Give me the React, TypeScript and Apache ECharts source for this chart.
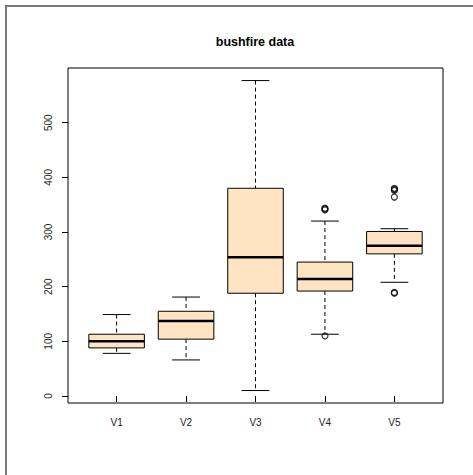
import React, { useEffect, useRef } from "react";
import * as echarts from "echarts";

const categories = ["V1", "V2", "V3", "V4", "V5"];
const lowerWhisker = [78, 66, 10, 113, 208];
const q1 = [88, 104, 188, 192, 260];
const median = [100, 137, 254, 214, 275];
const q3 = [113, 155, 380, 245, 301];
const upperWhisker = [149, 181, 577, 320, 306];
const outliers: [number, number][] = [
  [4, 340.5],
  [4, 342],
  [4, 343.5],
  [4, 110],
  [5, 380],
  [5, 378],
  [5, 376],
  [5, 364],
  [5, 188],
  [5, 189.5],
];
const yTicks = [0, 100, 200, 300, 400, 500];
const xTicks = [1, 2, 3, 4, 5];

const FONT = "'Liberation Sans', Arial, Helvetica, sans-serif";

export default function App() {
  const ref = useRef<HTMLDivElement>(null);
  useEffect(() => {
    document.body.style.margin = "0";
    const chart = echarts.init(ref.current!, null, { renderer: "svg" });
    const boxData = categories.map((_, i) => [
      i + 1,
      lowerWhisker[i],
      q1[i],
      median[i],
      q3[i],
      upperWhisker[i],
    ]);
    chart.setOption({
      animation: false,
      backgroundColor: "#fff",
      graphic: [
        {
          type: "rect",
          shape: { x: 6, y: 6, width: 520, height: 520 },
          style: { fill: "none", stroke: "#7a7a7a", lineWidth: 2 },
          silent: true,
          z: 100,
        },
        {
          type: "text",
          x: 255,
          y: 42,
          style: {
            text: "bushfire data",
            font: `bold 12.5px ${FONT}`,
            fill: "#000",
            textAlign: "center",
            textVerticalAlign: "middle",
          },
        },
      ],
      grid: {
        left: 68,
        top: 68,
        right: 30,
        bottom: 72,
        show: true,
        borderColor: "#000",
        borderWidth: 1,
        backgroundColor: "transparent",
      },
      xAxis: {
        type: "value",
        min: 0.3,
        max: 5.7,
        splitLine: { show: false },
        axisLine: { show: false },
        axisTick: {
          show: true,
          customValues: xTicks,
          length: 6,
          lineStyle: { color: "#000", width: 1 },
        },
        axisLabel: {
          show: true,
          customValues: xTicks,
          formatter: (v: number) => categories[Math.round(v) - 1] ?? "",
          margin: 14,
          fontSize: 10,
          fontFamily: FONT,
          color: "#222",
        },
      },
      yAxis: {
        type: "value",
        min: -12.8,
        max: 600,
        splitLine: { show: false },
        axisLine: { show: false },
        axisTick: {
          show: true,
          customValues: yTicks,
          length: 6,
          lineStyle: { color: "#000", width: 1 },
        },
        axisLabel: {
          show: true,
          customValues: yTicks,
          rotate: 90,
          margin: 15,
          fontSize: 10,
          fontFamily: FONT,
          color: "#222",
        },
      },
      series: [
        {
          type: "custom",
          data: boxData,
          renderItem: (params: any, api: any) => {
            const x = api.value(0);
            const lo = api.coord([x, api.value(1)]);
            const b1 = api.coord([x, api.value(2)]);
            const md = api.coord([x, api.value(3)]);
            const b3 = api.coord([x, api.value(4)]);
            const hi = api.coord([x, api.value(5)]);
            const bw = api.size([0.8, 0])[0];
            const cw = api.size([0.4, 0])[0];
            const cx = lo[0];
            const dash = { stroke: "#000", lineWidth: 1, lineDash: [4, 3] };
            const solid = { stroke: "#000", lineWidth: 1 };
            return {
              type: "group",
              children: [
                {
                  type: "line",
                  shape: { x1: cx, y1: hi[1], x2: cx, y2: b3[1] },
                  style: dash,
                },
                {
                  type: "line",
                  shape: { x1: cx, y1: b1[1], x2: cx, y2: lo[1] },
                  style: dash,
                },
                {
                  type: "line",
                  shape: { x1: cx - cw / 2, y1: hi[1], x2: cx + cw / 2, y2: hi[1] },
                  style: solid,
                },
                {
                  type: "line",
                  shape: { x1: cx - cw / 2, y1: lo[1], x2: cx + cw / 2, y2: lo[1] },
                  style: solid,
                },
                {
                  type: "rect",
                  shape: { x: cx - bw / 2, y: b3[1], width: bw, height: b1[1] - b3[1] },
                  style: { fill: "#FFE4C4", stroke: "#000", lineWidth: 1 },
                },
                {
                  type: "line",
                  shape: { x1: cx - bw / 2, y1: md[1], x2: cx + bw / 2, y2: md[1] },
                  style: { stroke: "#000", lineWidth: 2.5 },
                },
              ],
            };
          },
        },
        {
          type: "scatter",
          data: outliers,
          symbol: "circle",
          symbolSize: 6,
          itemStyle: { color: "transparent", borderColor: "#000", borderWidth: 1.2 },
          z: 5,
        },
      ],
    });
    return () => chart.dispose();
  }, []);
  return <div ref={ref} style={{ width: 473, height: 475 }} />;
}
